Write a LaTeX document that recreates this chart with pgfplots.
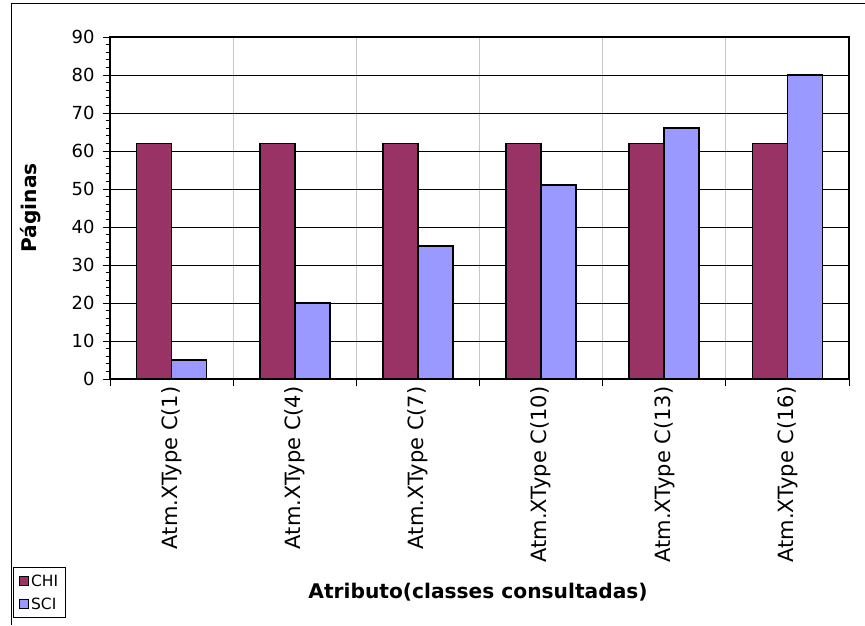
\documentclass[border=0pt]{standalone}
\usepackage{fontspec}
\setmainfont{DejaVu Sans}
\usepackage{pgfplots}
\pgfplotsset{compat=1.18}
\definecolor{chi}{RGB}{153,51,102}
\definecolor{sci}{RGB}{153,153,255}
\begin{document}
\begin{tikzpicture}[x=1pt,y=1pt]
\path[use as bounding box] (0,0) rectangle (865,625);
\draw[line width=1pt] (11,0) -- (11,621) -- (865,621);
\begin{axis}[
  at={(110pt,246pt)}, anchor=south west,
  scale only axis, width=739pt, height=342pt,
  xmin=0, xmax=6, ymin=0, ymax=90,
  ytick={0,10,...,90}, minor y tick num=4,
  xtick={0,1,...,6}, xticklabels={},
  ytick pos=left, xtick pos=bottom,
  extra x ticks={0.5,1.5,2.5,3.5,4.5,5.5},
  extra x tick labels={Atm.XType C(1),Atm.XType C(4),Atm.XType C(7),Atm.XType C(10),Atm.XType C(13),Atm.XType C(16)},
  extra x tick style={major tick length=0pt, grid=none,
     tick label style={rotate=90, anchor=east, font=\fontsize{21}{24}\selectfont, xshift=-4pt}},
  /pgf/number format/assume math mode=true,
  y tick label style={font=\fontsize{18}{21}\selectfont, xshift=-5pt},
  tick align=outside, major tick length=7pt, minor tick length=4pt,
  tick style={black, line width=0.8pt},
  ymajorgrids, xmajorgrids,
  y grid style={black, line width=0.8pt},
  x grid style={black!22, line width=0.8pt},
  axis line style={line width=1.5pt},
  ybar=0pt, bar width=35pt,
  xlabel={\bfseries Atributo(classes consultadas)},
  xlabel style={at={(rel axis cs:0.498,-0.623)}, anchor=center, font=\fontsize{20.2}{23}\selectfont},
  ylabel={\bfseries Páginas},
  ylabel style={at={(rel axis cs:-0.107,0.5)}, anchor=center, rotate=0, font=\fontsize{20.2}{23}\selectfont},
  legend style={at={(rel axis cs:-0.131,-0.699)}, anchor=south west,
     font=\fontsize{15.5}{17}\selectfont, draw=black, line width=0.8pt,
     inner xsep=5pt, inner ysep=5pt, row sep=6pt, cells={anchor=west}},
  legend image code/.code={\draw[#1,draw=black,line width=1.5pt] (1pt,-4.5pt) rectangle (10pt,4.5pt);},
  legend cell align=left,
]
\addplot[fill=chi, draw=black, line width=1.6pt] coordinates {(0.5,62) (1.5,62) (2.5,62) (3.5,62) (4.5,62) (5.5,62)};
\addplot[fill=sci, draw=black, line width=1.6pt] coordinates {(0.5,5) (1.5,20) (2.5,35) (3.5,51) (4.5,66) (5.5,80)};
\legend{CHI,SCI}
\end{axis}
\end{tikzpicture}
\end{document}
